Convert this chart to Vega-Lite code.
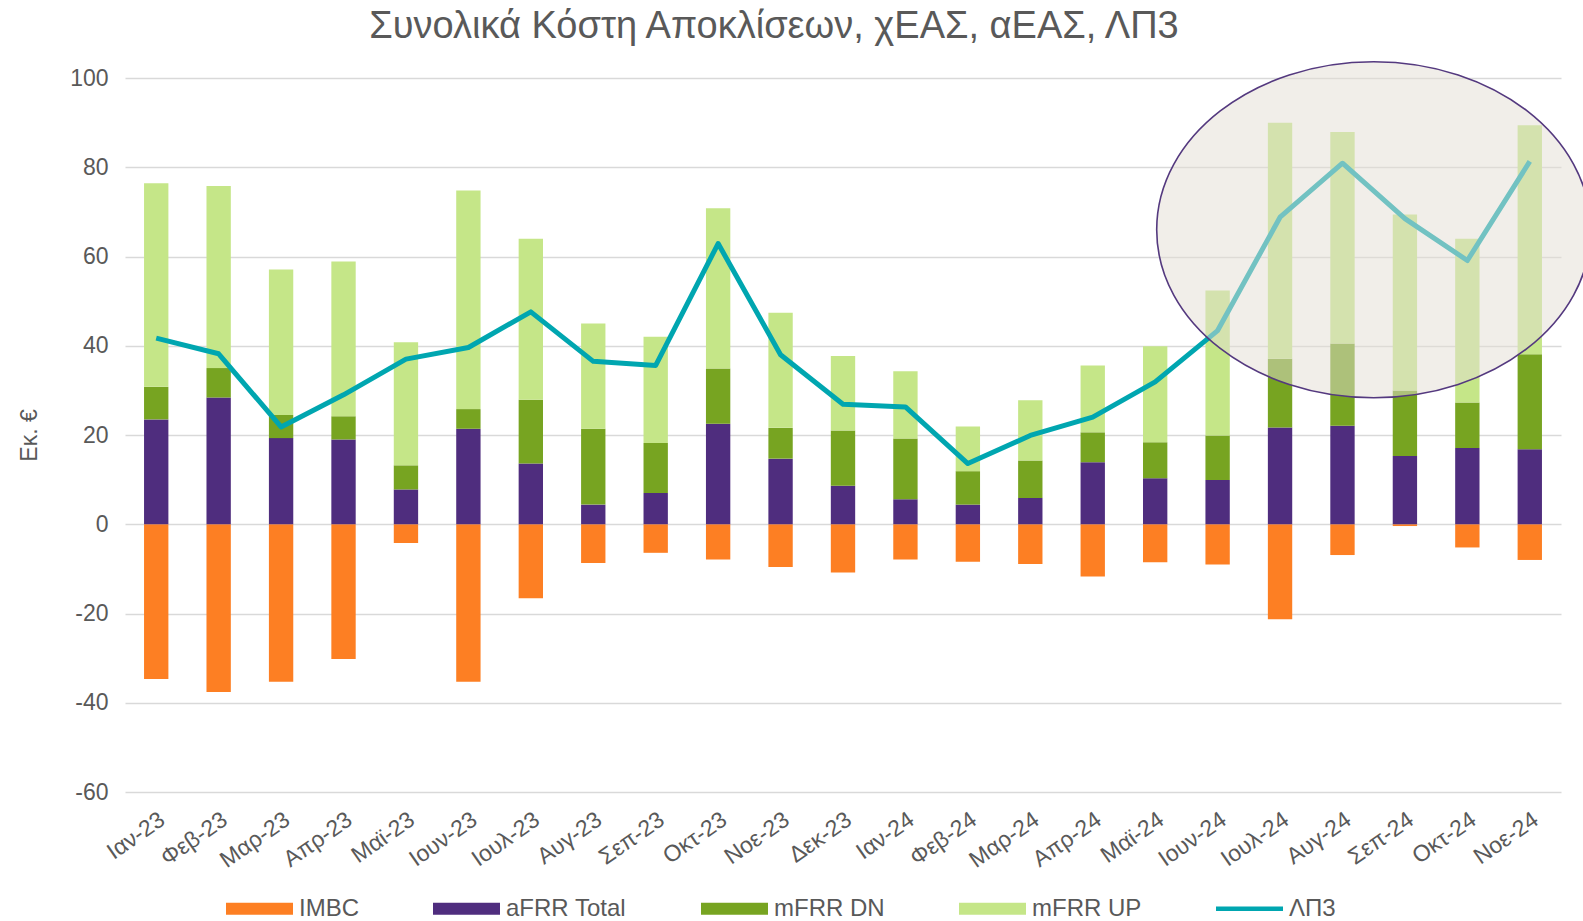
{
  "$schema": "https://vega.github.io/schema/vega-lite/v6.json",
  "autosize": "none",
  "width": 1436,
  "height": 714,
  "padding": {"left": 125, "top": 78, "right": 22, "bottom": 129},
  "background": "white",
  "title": {
    "text": "Συνολικά Κόστη Αποκλίσεων, χΕΑΣ, αΕΑΣ, ΛΠ3",
    "font": "Liberation Sans",
    "fontSize": 38,
    "fontWeight": "normal",
    "color": "#595959",
    "anchor": "middle",
    "dx": -69,
    "dy": 39,
    "offset": 22,
    "baseline": "alphabetic"
  },
  "datasets": {
    "bars": [
      {"month": "Ιαν-23", "series": "IMBC", "value": -34.7}, {"month": "Ιαν-23", "series": "aFRR Total", "value": 23.5}, {"month": "Ιαν-23", "series": "mFRR DN", "value": 7.3}, {"month": "Ιαν-23", "series": "mFRR UP", "value": 45.6},
      {"month": "Φεβ-23", "series": "IMBC", "value": -37.6}, {"month": "Φεβ-23", "series": "aFRR Total", "value": 28.4}, {"month": "Φεβ-23", "series": "mFRR DN", "value": 6.6}, {"month": "Φεβ-23", "series": "mFRR UP", "value": 40.8},
      {"month": "Μαρ-23", "series": "IMBC", "value": -35.3}, {"month": "Μαρ-23", "series": "aFRR Total", "value": 19.3}, {"month": "Μαρ-23", "series": "mFRR DN", "value": 5.2}, {"month": "Μαρ-23", "series": "mFRR UP", "value": 32.6},
      {"month": "Απρ-23", "series": "IMBC", "value": -30.2}, {"month": "Απρ-23", "series": "aFRR Total", "value": 19.0}, {"month": "Απρ-23", "series": "mFRR DN", "value": 5.2}, {"month": "Απρ-23", "series": "mFRR UP", "value": 34.7},
      {"month": "Μαϊ-23", "series": "IMBC", "value": -4.2}, {"month": "Μαϊ-23", "series": "aFRR Total", "value": 7.8}, {"month": "Μαϊ-23", "series": "mFRR DN", "value": 5.4}, {"month": "Μαϊ-23", "series": "mFRR UP", "value": 27.6},
      {"month": "Ιουν-23", "series": "IMBC", "value": -35.3}, {"month": "Ιουν-23", "series": "aFRR Total", "value": 21.4}, {"month": "Ιουν-23", "series": "mFRR DN", "value": 4.4}, {"month": "Ιουν-23", "series": "mFRR UP", "value": 49.0},
      {"month": "Ιουλ-23", "series": "IMBC", "value": -16.6}, {"month": "Ιουλ-23", "series": "aFRR Total", "value": 13.6}, {"month": "Ιουλ-23", "series": "mFRR DN", "value": 14.3}, {"month": "Ιουλ-23", "series": "mFRR UP", "value": 36.1},
      {"month": "Αυγ-23", "series": "IMBC", "value": -8.7}, {"month": "Αυγ-23", "series": "aFRR Total", "value": 4.4}, {"month": "Αυγ-23", "series": "mFRR DN", "value": 17.0}, {"month": "Αυγ-23", "series": "mFRR UP", "value": 23.6},
      {"month": "Σεπ-23", "series": "IMBC", "value": -6.4}, {"month": "Σεπ-23", "series": "aFRR Total", "value": 7.0}, {"month": "Σεπ-23", "series": "mFRR DN", "value": 11.2}, {"month": "Σεπ-23", "series": "mFRR UP", "value": 23.8},
      {"month": "Οκτ-23", "series": "IMBC", "value": -7.9}, {"month": "Οκτ-23", "series": "aFRR Total", "value": 22.5}, {"month": "Οκτ-23", "series": "mFRR DN", "value": 12.4}, {"month": "Οκτ-23", "series": "mFRR UP", "value": 35.9},
      {"month": "Νοε-23", "series": "IMBC", "value": -9.6}, {"month": "Νοε-23", "series": "aFRR Total", "value": 14.7}, {"month": "Νοε-23", "series": "mFRR DN", "value": 6.9}, {"month": "Νοε-23", "series": "mFRR UP", "value": 25.8},
      {"month": "Δεκ-23", "series": "IMBC", "value": -10.8}, {"month": "Δεκ-23", "series": "aFRR Total", "value": 8.6}, {"month": "Δεκ-23", "series": "mFRR DN", "value": 12.4}, {"month": "Δεκ-23", "series": "mFRR UP", "value": 16.7},
      {"month": "Ιαν-24", "series": "IMBC", "value": -7.9}, {"month": "Ιαν-24", "series": "aFRR Total", "value": 5.6}, {"month": "Ιαν-24", "series": "mFRR DN", "value": 13.6}, {"month": "Ιαν-24", "series": "mFRR UP", "value": 15.1},
      {"month": "Φεβ-24", "series": "IMBC", "value": -8.4}, {"month": "Φεβ-24", "series": "aFRR Total", "value": 4.4}, {"month": "Φεβ-24", "series": "mFRR DN", "value": 7.5}, {"month": "Φεβ-24", "series": "mFRR UP", "value": 10.0},
      {"month": "Μαρ-24", "series": "IMBC", "value": -8.9}, {"month": "Μαρ-24", "series": "aFRR Total", "value": 5.9}, {"month": "Μαρ-24", "series": "mFRR DN", "value": 8.4}, {"month": "Μαρ-24", "series": "mFRR UP", "value": 13.5},
      {"month": "Απρ-24", "series": "IMBC", "value": -11.7}, {"month": "Απρ-24", "series": "aFRR Total", "value": 13.9}, {"month": "Απρ-24", "series": "mFRR DN", "value": 6.7}, {"month": "Απρ-24", "series": "mFRR UP", "value": 15.0},
      {"month": "Μαϊ-24", "series": "IMBC", "value": -8.5}, {"month": "Μαϊ-24", "series": "aFRR Total", "value": 10.3}, {"month": "Μαϊ-24", "series": "mFRR DN", "value": 8.1}, {"month": "Μαϊ-24", "series": "mFRR UP", "value": 21.5},
      {"month": "Ιουν-24", "series": "IMBC", "value": -9.0}, {"month": "Ιουν-24", "series": "aFRR Total", "value": 9.9}, {"month": "Ιουν-24", "series": "mFRR DN", "value": 10.0}, {"month": "Ιουν-24", "series": "mFRR UP", "value": 32.5},
      {"month": "Ιουλ-24", "series": "IMBC", "value": -21.3}, {"month": "Ιουλ-24", "series": "aFRR Total", "value": 21.7}, {"month": "Ιουλ-24", "series": "mFRR DN", "value": 15.4}, {"month": "Ιουλ-24", "series": "mFRR UP", "value": 52.9},
      {"month": "Αυγ-24", "series": "IMBC", "value": -6.9}, {"month": "Αυγ-24", "series": "aFRR Total", "value": 22.1}, {"month": "Αυγ-24", "series": "mFRR DN", "value": 18.4}, {"month": "Αυγ-24", "series": "mFRR UP", "value": 47.4},
      {"month": "Σεπ-24", "series": "IMBC", "value": -0.4}, {"month": "Σεπ-24", "series": "aFRR Total", "value": 15.3}, {"month": "Σεπ-24", "series": "mFRR DN", "value": 14.7}, {"month": "Σεπ-24", "series": "mFRR UP", "value": 39.4},
      {"month": "Οκτ-24", "series": "IMBC", "value": -5.2}, {"month": "Οκτ-24", "series": "aFRR Total", "value": 17.1}, {"month": "Οκτ-24", "series": "mFRR DN", "value": 10.2}, {"month": "Οκτ-24", "series": "mFRR UP", "value": 36.7},
      {"month": "Νοε-24", "series": "IMBC", "value": -8.0}, {"month": "Νοε-24", "series": "aFRR Total", "value": 16.8}, {"month": "Νοε-24", "series": "mFRR DN", "value": 21.3}, {"month": "Νοε-24", "series": "mFRR UP", "value": 51.3}
    ],
    "line": [
      {"month": "Ιαν-23", "series": "ΛΠ3", "value": 41.7},
      {"month": "Φεβ-23", "series": "ΛΠ3", "value": 38.2},
      {"month": "Μαρ-23", "series": "ΛΠ3", "value": 21.8},
      {"month": "Απρ-23", "series": "ΛΠ3", "value": 29.0},
      {"month": "Μαϊ-23", "series": "ΛΠ3", "value": 37.0},
      {"month": "Ιουν-23", "series": "ΛΠ3", "value": 39.6},
      {"month": "Ιουλ-23", "series": "ΛΠ3", "value": 47.6},
      {"month": "Αυγ-23", "series": "ΛΠ3", "value": 36.5},
      {"month": "Σεπ-23", "series": "ΛΠ3", "value": 35.6},
      {"month": "Οκτ-23", "series": "ΛΠ3", "value": 62.9},
      {"month": "Νοε-23", "series": "ΛΠ3", "value": 38.0},
      {"month": "Δεκ-23", "series": "ΛΠ3", "value": 26.9},
      {"month": "Ιαν-24", "series": "ΛΠ3", "value": 26.3},
      {"month": "Φεβ-24", "series": "ΛΠ3", "value": 13.6},
      {"month": "Μαρ-24", "series": "ΛΠ3", "value": 19.9},
      {"month": "Απρ-24", "series": "ΛΠ3", "value": 24.0},
      {"month": "Μαϊ-24", "series": "ΛΠ3", "value": 31.9},
      {"month": "Ιουν-24", "series": "ΛΠ3", "value": 43.4},
      {"month": "Ιουλ-24", "series": "ΛΠ3", "value": 68.8},
      {"month": "Αυγ-24", "series": "ΛΠ3", "value": 80.9},
      {"month": "Σεπ-24", "series": "ΛΠ3", "value": 68.5},
      {"month": "Οκτ-24", "series": "ΛΠ3", "value": 59.1},
      {"month": "Νοε-24", "series": "ΛΠ3", "value": 81.3}
    ],
    "highlight": [
      {"month": "Αυγ-24", "value": 66}
    ]
  },
  "encoding": {
    "x": {
      "field": "month",
      "type": "nominal",
      "sort": null,
      "scale": {"paddingInner": 0, "paddingOuter": 0},
      "axis": {
        "title": null,
        "labelAngle": -35,
        "labelFont": "Liberation Sans",
        "labelFontSize": 23,
        "labelColor": "#595959",
        "labelPadding": 16,
        "domain": false,
        "ticks": false,
        "grid": false
      }
    },
    "y": {
      "field": "value",
      "type": "quantitative",
      "scale": {"domain": [-60, 100], "nice": false},
      "axis": {
        "title": "Εκ. €",
        "titleFont": "Liberation Sans",
        "titleFontSize": 23,
        "titleFontWeight": "normal",
        "titleColor": "#595959",
        "titlePadding": 28,
        "values": [-60, -40, -20, 0, 20, 40, 60, 80, 100],
        "labelExpr": "datum.value < 0 ? '-' + abs(datum.value) : '' + datum.value",
        "labelFont": "Liberation Sans",
        "labelFontSize": 23,
        "labelColor": "#595959",
        "labelPadding": 17,
        "domain": false,
        "ticks": false,
        "grid": true,
        "gridColor": "#D9D9D9",
        "gridWidth": 1.5
      }
    }
  },
  "layer": [
    {
      "data": {"name": "bars"},
      "mark": {"type": "bar", "width": {"band": 0.39}},
      "encoding": {
        "y": {"field": "value", "type": "quantitative", "stack": "zero"},
        "order": {"field": "series", "sort": "ascending"},
        "color": {
          "field": "series",
          "type": "nominal",
          "scale": {
            "domain": ["IMBC", "aFRR Total", "mFRR DN", "mFRR UP", "ΛΠ3"],
            "range": ["#FD7F23", "#4F2D7E", "#77A421", "#C5E688", "#00A6B0"]
          },
          "legend": {
            "title": null,
            "orient": "none",
            "legendX": 101,
            "legendY": 797,
            "direction": "horizontal",
            "columns": 5,
            "columnPadding": 74,
            "symbolType": "M-1,-0.18L1,-0.18L1,0.18L-1,0.18Z",
            "symbolSize": 4489,
            "symbolStrokeWidth": 0,
            "symbolOpacity": 1,
            "labelFont": "Liberation Sans",
            "labelFontSize": 24,
            "labelColor": "#595959",
            "labelOffset": 6,
            "encode": {
              "symbols": {
                "update": {
                  "shape": {"signal": "datum.value === 'ΛΠ3' ? 'M-1,-0.065L1,-0.065L1,0.065L-1,0.065Z' : 'M-1,-0.18L1,-0.18L1,0.18L-1,0.18Z'"},
                  "fill": {"scale": "color", "field": "value"},
                  "stroke": {"value": "transparent"},
                  "opacity": {"value": 1}
                }
              }
            }
          }
        }
      }
    },
    {
      "data": {"name": "line"},
      "mark": {"type": "line", "strokeWidth": 5, "strokeJoin": "round"},
      "encoding": {
        "color": {"field": "series", "type": "nominal"}
      }
    },
    {
      "data": {"name": "highlight"},
      "mark": {
        "type": "point",
        "shape": "M-1,0C-1,-0.4275,-0.5523,-0.774,0,-0.774C0.5523,-0.774,1,-0.4275,1,0C1,0.4275,0.5523,0.774,0,0.774C-0.5523,0.774,-1,0.4275,-1,0Z",
        "size": 188356,
        "filled": true,
        "fill": "#E3DDD3",
        "fillOpacity": 0.5,
        "stroke": "#54397F",
        "strokeOpacity": 1,
        "strokeWidth": 1.6,
        "opacity": 1
      },
      "encoding": {
        "x": {"field": "month", "type": "nominal", "sort": null, "bandPosition": 1}
      }
    }
  ],
  "config": {
    "view": {"stroke": null},
    "font": "Liberation Sans"
  }
}
